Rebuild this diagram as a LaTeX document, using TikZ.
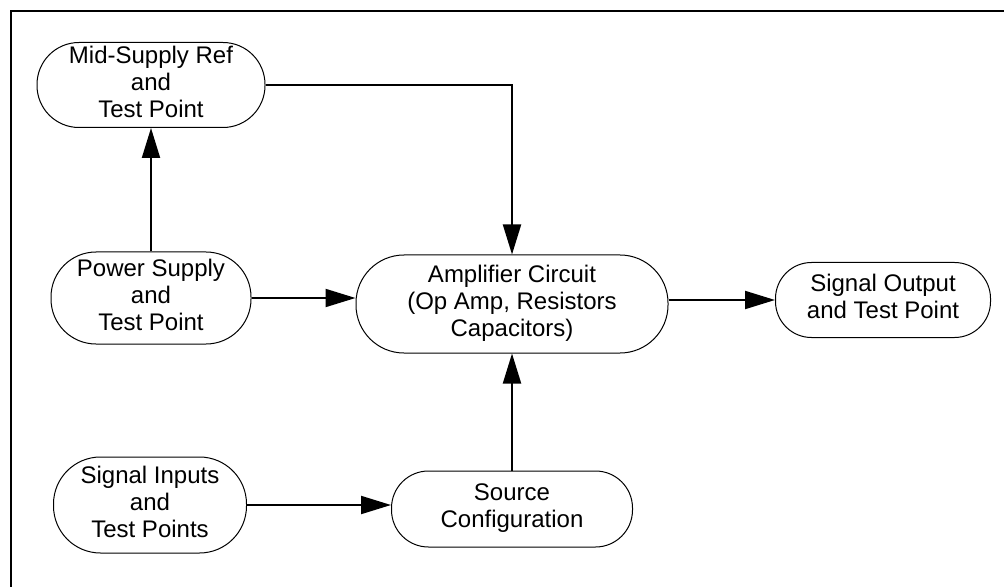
\documentclass[tikz,border=0pt]{standalone}
\usepackage{fontspec}
\setmainfont{Liberation Sans}
\usetikzlibrary{arrows.meta}
\tikzstyle{block} = [rectangle, draw=black, line width=0.5pt, text centered, inner sep=1pt, font=\fontsize{12}{13.5}\selectfont]
\tikzstyle{arrow} = [line width=1pt, -{Triangle[length=15pt, width=9pt]}]
\tikzstyle{frame} = [line width=1.2pt]

\begin{document}
\begin{tikzpicture}[x=0.5pt, y=-0.5pt]

\useasboundingbox (0, 0) rectangle (1004, 587);
\draw [frame] (11, 587) -- (11, 11) -- (1004, 11);

\node at (151, 85) (midref) [block, minimum width=114pt, minimum height=42.5pt, rounded corners=21pt] {\begin{tabular}{c} Mid-Supply Ref \\ and \\ Test Point \end{tabular}};
\node at (151, 298) (power) [block, minimum width=100pt, minimum height=46pt, rounded corners=22.5pt] {\begin{tabular}{c} Power Supply \\ and \\ Test Point \end{tabular}};
\node at (150, 505) (inputs) [block, minimum width=96.5pt, minimum height=48pt, rounded corners=23.5pt] {\begin{tabular}{c} Signal Inputs \\ and \\ Test Points \end{tabular}};
\node at (512, 509) (source) [block, minimum width=120.5pt, minimum height=38pt, rounded corners=18.5pt] {\begin{tabular}{c} Source \\ Configuration \end{tabular}};
\node at (512, 304) (amp) [block, minimum width=156pt, minimum height=49pt, rounded corners=24pt] {\begin{tabular}{c} Amplifier Circuit \\ (Op Amp, Resistors \\ Capacitors) \end{tabular}};
\node at (883, 300) (output) [block, minimum width=107.5pt, minimum height=37.5pt, rounded corners=18pt] {\begin{tabular}{c} Signal Output \\ and Test Point \end{tabular}};

\draw [arrow] (power) -- (midref);
\draw [arrow] (midref.east) -- (midref.east -| amp.north) -- (amp.north);
\draw [arrow] (power.east) -- (power.east -| amp.west);
\draw [arrow] (amp.east |- output.west) -- (output.west);
\draw [arrow] (inputs.east) -- (inputs.east -| source.west);
\draw [arrow] (source) -- (amp);

\end{tikzpicture}
\end{document}
